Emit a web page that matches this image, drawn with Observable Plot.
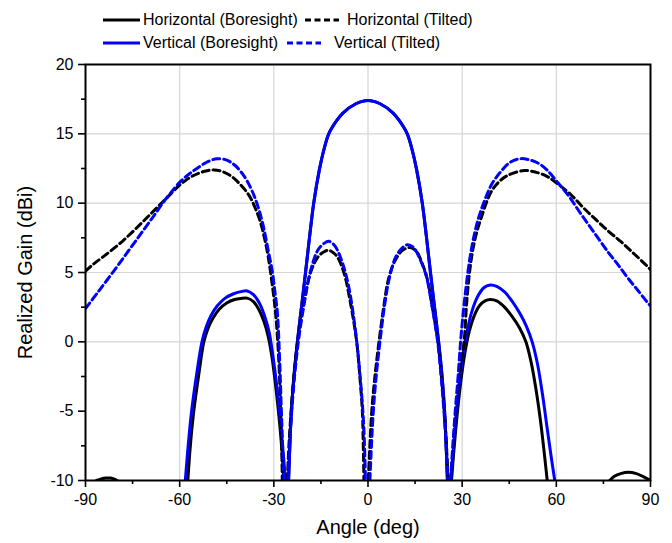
<!DOCTYPE html>
<html><head><meta charset="utf-8">
<script src="https://cdn.jsdelivr.net/npm/d3@7"></script>
<script src="https://cdn.jsdelivr.net/npm/@observablehq/plot@0.6"></script>
<style>
body{margin:0;background:#fff;font-family:"Liberation Sans",Arial,sans-serif;}
#legend{position:relative;width:672px;height:56px;}
.sw{position:absolute;}
.lt{position:absolute;font-size:16px;line-height:20px;color:#000;white-space:nowrap;}
</style></head><body>
<div id="legend"></div>
<div id="chart"></div>
<script>
// ---- data (angle in deg, realized gain in dBi); null = break in the curve ----
const seriesNames = ["Horizontal (Boresight)", "Horizontal (Tilted)", "Vertical (Boresight)", "Vertical (Tilted)"];
const seriesColors = ["#000000", "#000000", "#0000ff", "#0000ff"];
const seriesDashed = [false, true, false, true];

const xMajor = [-90, -60, -30, 0, 30, 60, 90];
const xMinor = [-75, -45, -15, 15, 45, 75];
const yMajor = [-10, -5, 0, 5, 10, 15, 20];
const yMinor = [-7.5, -2.5, 2.5, 7.5, 12.5, 17.5];
const xGrid = [-60, -30, 0, 30, 60];
const yGrid = [0, 5, 10, 15];

const hBoreAngle = [-86.5,-85,-83.5,-82,-80.8,-80, null,
  -57.4,-56.6,-55.5,-54,-52.3,-50.9,-49.4,-47.4,-45,-42.5,-40.5,-38.5,-36.5,-34.7,-33.2,-31.8,-30.6,-29.3,-28.1,-27.3,-26.8, null,
  -25.3,-24.9,-24.4,-23.6,-22.5,-21.2,-19.9,-18.6,-17.3,-15.5,-14,-12.5,-10,-8,-4,0,4,8,10,12.5,14,15.5,17.3,18.6,19.9,21.2,22.5,23.6,24.4,24.9,25.3, null,
  26.6,27.3,28.3,29.5,30.8,32.1,33.7,35.5,37.3,39,41,43.5,46,48.3,50.3,52,53.5,54.9,56,57.1, null,
  77,78.5,80.5,83,85.5,88,90];
const hBoreGain = [-10,-9.88,-9.82,-9.82,-9.9,-10, null,
  -10,-7.5,-5,-2.5,0,1.0,1.7,2.35,2.8,3.05,3.13,3.15,2.9,2.3,1.5,0.4,-1.1,-3.4,-6,-8.2,-10, null,
  -10,-7.5,-5,-2.5,0,2.5,5,7.6,10,12.4,13.9,15,15.95,16.5,17.15,17.4,17.15,16.5,15.95,15,13.9,12.4,10,7.6,5,2.5,0,-2.5,-5,-7.5,-10, null,
  -10,-8,-5.5,-3,-0.9,0.6,1.8,2.6,2.95,3.05,2.95,2.5,1.8,1.0,0,-1.5,-3.4,-5.6,-7.7,-10, null,
  -10,-9.7,-9.5,-9.4,-9.5,-9.75,-10];

const vBoreAngle = [-58.2,-57.3,-56.2,-54.7,-52.9,-51.5,-50,-48,-45.5,-43,-40.5,-38.5,-36.5,-34.5,-33,-31.5,-30.3,-29,-27.8,-26.9,-26.3, null,
  -25.3,-24.9,-24.4,-23.6,-22.5,-21.2,-19.9,-18.6,-17.3,-15.5,-14,-12.5,-10,-8,-4,0,4,8,10,12.5,14,15.5,17.3,18.6,19.9,21.2,22.5,23.6,24.4,24.9,25.3, null,
  26.4,27.1,28,29.1,30.3,31.6,33.1,34.9,36.9,38.9,41,43.5,46,48.5,50.5,52.3,54,55.6,57,58.3,59.5];
const vBoreGain = [-10,-7.5,-5,-2.5,0,1.1,1.9,2.6,3.15,3.45,3.62,3.67,3.4,2.75,1.9,0.7,-1,-3.3,-6,-8.3,-10, null,
  -10,-7.5,-5,-2.5,0,2.5,5,7.6,10,12.4,13.9,15,15.95,16.5,17.15,17.4,17.15,16.5,15.95,15,13.9,12.4,10,7.6,5,2.5,0,-2.5,-5,-7.5,-10, null,
  -10,-8,-5.5,-3,-0.9,0.8,2.2,3.25,3.9,4.1,4.0,3.6,2.9,2.0,1.1,0,-1.6,-3.8,-6.1,-8.2,-10];

const hTiltAngle = [-90,-87.5,-84,-78,-72,-68,-64,-60,-56,-52,-49,-46,-43,-40.5,-38,-36.4,-34.5,-33.2,-32,-31.1,-29.5,-28.5,-27.8,-27.5,-27.3, null,
  -25.7,-25.2,-24.5,-23.6,-22.4,-20.5,-18.3,-16,-14,-12.4,-10,-7.7,-5.5,-3.6,-2.6,-1.8,-1.5,-1.3, null,
  0.1,0.6,1.2,2.2,3.5,5,6.5,8.5,11,13.5,15.5,17,18.8,20.5,22.3,23.4,24.3,25,25.5, null,
  26.4,27.2,28,29,30.6,31.5,32.8,34.3,36,39.2,42,44.5,49.8,54,57.3,60.4,64.7,68.5,72.2,76.5,80.7,85,89.2,90];
const hTiltGain = [5.1,5.6,6.2,7.3,8.6,9.5,10.4,11.3,11.95,12.3,12.4,12.25,11.85,11.3,10.6,9.9,8.8,7.7,6.4,5.1,2.2,-1,-5,-7.5,-10, null,
  -10,-7.5,-5,-2.5,0,2.7,5,6.1,6.5,6.6,6.2,5,2.7,0,-2.5,-5,-7.5,-10, null,
  -10,-7.5,-5,-2.5,0,2.5,4.5,5.8,6.6,6.8,6.5,5.8,4.6,2.5,0,-2.5,-5,-7.5,-10, null,
  -10,-7.5,-5,-2.5,0,3,5.8,7.6,8.9,10.8,11.6,12.0,12.35,12.2,11.9,11.4,10.6,9.7,8.9,8.0,7.2,6.3,5.4,5.2];

const vTiltAngle = [-90,-86,-81,-76.5,-72.5,-68.5,-65.1,-63,-59.8,-57,-54.5,-51,-48.1,-45,-42.5,-40.6,-38.5,-36.4,-34.7,-33.2,-31.8,-30.5,-29.6,-28.9,-28.2,-27.6,-27.2,-26.8, null,
  -25.5,-25,-24.3,-23.4,-22.2,-20.3,-18.2,-16,-14,-12.4,-10.5,-8,-6,-4,-2.5,-1.5,-1.1,-0.8, null,
  0.6,1.1,1.7,2.6,3.8,5.2,6.8,8.8,11,12.6,14.5,16.5,18.5,20.3,22.2,23.3,24.2,24.9,25.4, null,
  26.3,27,27.8,28.7,29.6,31,32.8,34.8,37,39.5,42.4,45,48.2,51,54.1,57,60.4,64,67.9,72,76.4,79.5,82.8,86,89.2,90];
const vTiltGain = [2.4,3.6,5.1,6.5,7.75,9.0,10.1,10.7,11.55,12.1,12.5,13.0,13.2,13.1,12.75,12.3,11.6,10.6,9.5,8.2,6.6,5.1,3.5,2.2,-1,-5,-7.5,-10, null,
  -10,-7.5,-5,-2.5,0,2.8,5.2,6.6,7.1,7.25,6.9,5.6,3.8,0.8,-2.5,-5.5,-7.5,-10, null,
  -10,-7.5,-5,-2.5,0,2.5,4.6,6.1,6.8,7.0,6.8,6.0,4.8,2.7,0,-2.5,-5,-7.5,-10, null,
  -10,-7.5,-5,-2.5,0.3,3.5,6.5,8.6,10.1,11.4,12.3,12.9,13.2,13.15,12.9,12.4,11.5,10.5,9.2,7.9,6.5,5.6,4.6,3.7,2.8,2.6];

// ---- build ----
const rows = (a, g) => a.map((x, i) => ({x: x, y: g[i]}));
const series = [
  {data: rows(hBoreAngle, hBoreGain), idx: 0},
  {data: rows(vBoreAngle, vBoreGain), idx: 2},
  {data: rows(hTiltAngle, hTiltGain), idx: 1},
  {data: rows(vTiltAngle, vTiltGain), idx: 3}
];
const DASH = "7,4";

const lineMarks = series.map(s => Plot.line(s.data, {
  x: "x", y: "y",
  stroke: seriesColors[s.idx],
  strokeWidth: 3,
  strokeDasharray: seriesDashed[s.idx] ? DASH : null,
  curve: "catmull-rom",
  clip: true
}));

const fmt = d => String(d);
const chart = Plot.plot({
  width: 672, height: 487,
  marginTop: 8, marginBottom: 63, marginLeft: 85, marginRight: 22,
  style: {fontFamily: "'Liberation Sans', Arial, sans-serif", fontSize: "16px", color: "#000", background: "#fff"},
  x: {domain: [xMajor[0], xMajor[xMajor.length - 1]]},
  y: {domain: [yMajor[0], yMajor[yMajor.length - 1]]},
  marks: [
    Plot.gridX(xGrid, {stroke: "#d6d6d6", strokeOpacity: 1, strokeWidth: 1.2}),
    Plot.gridY(yGrid, {stroke: "#d6d6d6", strokeOpacity: 1, strokeWidth: 1.2}),
    ...lineMarks,
    Plot.frame({stroke: "#000", strokeWidth: 2}),
    Plot.axisX({ticks: xMajor, tickSize: 7, tickPadding: 6, tickFormat: fmt, label: null, strokeWidth: 1.6}),
    Plot.axisX({ticks: xMinor, tickSize: 4, tickFormat: () => "", label: null, strokeWidth: 1.6}),
    Plot.axisY({ticks: yMajor, tickSize: 7, tickPadding: 5, tickFormat: fmt, label: null, strokeWidth: 1.6}),
    Plot.axisY({ticks: yMinor, tickSize: 4, tickFormat: () => "", label: null, strokeWidth: 1.6}),
    Plot.text(["Angle (deg)"], {frameAnchor: "bottom", dy: 47, lineAnchor: "middle", textAnchor: "middle", fontSize: 20}),
    Plot.text(["Realized Gain (dBi)"], {frameAnchor: "left", dx: -60, rotate: -90, lineAnchor: "middle", textAnchor: "middle", fontSize: 20})
  ]
});
document.getElementById("chart").appendChild(chart);

// ---- legend (HTML above the SVG) ----
const legendSlots = [
  {swx: 103, tx: 143, cy: 20},  // Horizontal (Boresight)
  {swx: 305, tx: 347, cy: 20},  // Horizontal (Tilted)
  {swx: 103, tx: 143, cy: 43},  // Vertical (Boresight)
  {swx: 287, tx: 334, cy: 43}   // Vertical (Tilted)
];
const legend = document.getElementById("legend");
const ns = "http://www.w3.org/2000/svg";
seriesNames.forEach((name, i) => {
  const slot = legendSlots[i];
  const sw = document.createElementNS(ns, "svg");
  sw.setAttribute("class", "sw");
  sw.setAttribute("width", 38); sw.setAttribute("height", 8);
  sw.style.left = slot.swx + "px"; sw.style.top = (slot.cy - 4) + "px";
  const ln = document.createElementNS(ns, "line");
  ln.setAttribute("x1", 0); ln.setAttribute("x2", seriesDashed[i] ? 34 : 37);
  ln.setAttribute("y1", 4); ln.setAttribute("y2", 4);
  ln.setAttribute("stroke", seriesColors[i]); ln.setAttribute("stroke-width", 3);
  if (seriesDashed[i]) ln.setAttribute("stroke-dasharray", "6,3.5");
  sw.appendChild(ln);
  legend.appendChild(sw);
  const t = document.createElement("div");
  t.className = "lt";
  t.textContent = name;
  t.style.left = slot.tx + "px"; t.style.top = (slot.cy - 10) + "px";
  legend.appendChild(t);
});
</script>
</body></html>
